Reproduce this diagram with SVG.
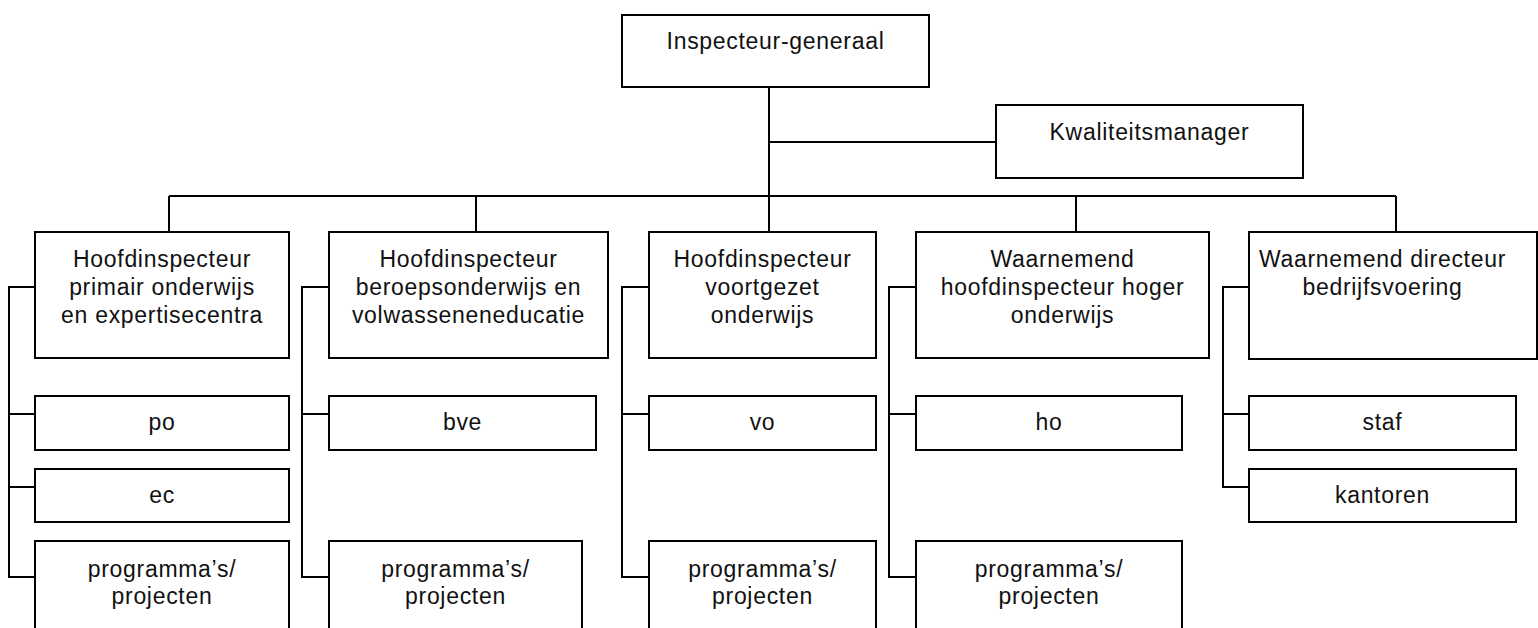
<svg xmlns="http://www.w3.org/2000/svg" width="1538" height="628" viewBox="0 0 1538 628">
<style>
rect.b{fill:#fff;stroke:#000;stroke-width:2}
#connectors path{fill:none;stroke:#000;stroke-width:2}
text{font-family:"Liberation Sans",Arial,sans-serif;font-size:23px;fill:#111;text-anchor:middle;letter-spacing:0.7px}
</style>
<rect width="1538" height="628" fill="#fff"/>
<g id="connectors">
<path d="M769,87V232M769,142H996M169,196H1396M169,196V232M476,196V232M1076,196V232M1396,196V232"/>
<path d="M35,287H9V577H35M9,414H35M9,487H35"/>
<path d="M329,287H302V577H329M302,414H329"/>
<path d="M649,287H622V577H649M622,414H649"/>
<path d="M916,287H889V577H916M889,414H916"/>
<path d="M1249,287H1223V487H1249M1223,414H1249"/>
</g>
<g id="n-ig"><rect class="b" x="622" y="15" width="307" height="72"/><text x="775.5" y="49">Inspecteur-generaal</text></g>
<g id="n-km"><rect class="b" x="996" y="105" width="307" height="73"/><text x="1149.5" y="140">Kwaliteitsmanager</text></g>
<g id="n-po-main"><rect class="b" x="35" y="232" width="254" height="126"/><text x="162" y="267">Hoofdinspecteur</text><text x="162" y="295">primair onderwijs</text><text x="162" y="323">en expertisecentra</text></g>
<g id="n-bve-main"><rect class="b" x="329" y="232" width="279" height="126"/><text x="468.5" y="267">Hoofdinspecteur</text><text x="468.5" y="295">beroepsonderwijs en</text><text x="468.5" y="323">volwasseneneducatie</text></g>
<g id="n-vo-main"><rect class="b" x="649" y="232" width="227" height="126"/><text x="762.5" y="267">Hoofdinspecteur</text><text x="762.5" y="295">voortgezet</text><text x="762.5" y="323">onderwijs</text></g>
<g id="n-ho-main"><rect class="b" x="916" y="232" width="293" height="126"/><text x="1062.5" y="267">Waarnemend</text><text x="1062.5" y="295">hoofdinspecteur hoger</text><text x="1062.5" y="323">onderwijs</text></g>
<g id="n-bv-main"><rect class="b" x="1249" y="232" width="288" height="127"/><text x="1382.5" y="267">Waarnemend directeur</text><text x="1382.5" y="295">bedrijfsvoering</text></g>
<g id="n-po"><rect class="b" x="35" y="396" width="254" height="54"/><text x="162" y="430">po</text></g>
<g id="n-ec"><rect class="b" x="35" y="469" width="254" height="53"/><text x="162" y="503">ec</text></g>
<g id="n-pp1"><rect class="b" x="35" y="541" width="254" height="100"/><text x="162" y="577">programma’s/</text><text x="162" y="604">projecten</text></g>
<g id="n-bve"><rect class="b" x="329" y="396" width="267" height="54"/><text x="462.5" y="430">bve</text></g>
<g id="n-pp2"><rect class="b" x="329" y="541" width="253" height="100"/><text x="455.5" y="577">programma’s/</text><text x="455.5" y="604">projecten</text></g>
<g id="n-vo"><rect class="b" x="649" y="396" width="227" height="54"/><text x="762.5" y="430">vo</text></g>
<g id="n-pp3"><rect class="b" x="649" y="541" width="227" height="100"/><text x="762.5" y="577">programma’s/</text><text x="762.5" y="604">projecten</text></g>
<g id="n-ho"><rect class="b" x="916" y="396" width="266" height="54"/><text x="1049" y="430">ho</text></g>
<g id="n-pp4"><rect class="b" x="916" y="541" width="266" height="100"/><text x="1049" y="577">programma’s/</text><text x="1049" y="604">projecten</text></g>
<g id="n-staf"><rect class="b" x="1249" y="396" width="267" height="54"/><text x="1382.5" y="430">staf</text></g>
<g id="n-kantoren"><rect class="b" x="1249" y="469" width="267" height="53"/><text x="1382.5" y="503">kantoren</text></g>
</svg>
